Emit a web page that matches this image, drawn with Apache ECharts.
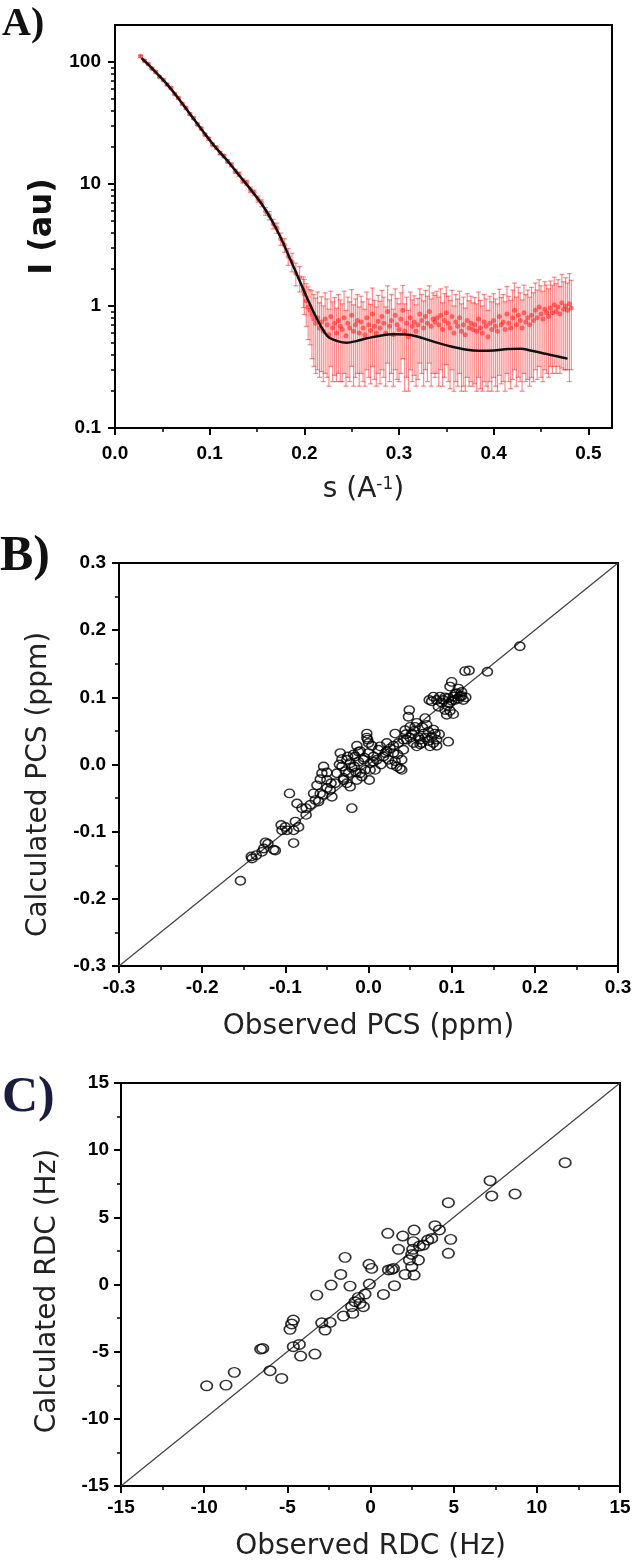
<!DOCTYPE html>
<html>
<head>
<meta charset="utf-8">
<script src="https://cdn.jsdelivr.net/npm/echarts@6/dist/echarts.min.js"></script>
<style>
html,body{margin:0;padding:0;background:#fff;}
#chart{width:633px;height:1564px;}
</style>
</head>
<body>
<div id="chart"></div>
<script>
// ---------------- Panel A : SAXS curve ----------------
// fitted curve (black)
const fitS = [0.028,0.035,0.045,0.055,0.065,0.075,0.085,0.095,0.105,0.115,
              0.125,0.135,0.145,0.155,0.165,0.175,0.185,0.195,0.205,0.215,
              0.225,0.235,0.245,0.255,0.265,0.280,0.295,0.310,0.325,0.340,
              0.355,0.370,0.385,0.400,0.415,0.428,0.440,0.455,0.468,0.478];
const fitI = [107,95,79,65.3,52.5,41.4,32.5,25.6,20.4,16.7,
              13.5,10.8,8.67,6.84,5.12,3.63,2.42,1.61,1.07,0.74,
              0.56,0.515,0.50,0.515,0.54,0.57,0.585,0.58,0.545,0.50,
              0.465,0.44,0.43,0.432,0.443,0.445,0.43,0.405,0.385,0.37];

// experimental data, low-s part
const sLow = [0.027,0.031,0.035,0.039,0.043,0.047,0.051,0.055,0.059,0.063,
              0.067,0.071,0.075,0.079,0.083,0.087,0.091,0.095,0.099,0.103,
              0.107,0.111,0.115,0.119,0.123,0.127,0.131,0.135,0.139,0.143,
              0.147,0.151,0.155,0.159,0.163,0.167,0.171,0.175,0.179,0.183,
              0.187,0.191,0.195,0.199];
const iLow = [111,102,96,88,82.5,75.5,71,65,61,54.5,
              50.5,45.3,41.8,37.4,34.5,30.7,28.4,25.3,23.4,21.0,
              19.8,17.9,16.9,15.3,14.3,12.7,12.0,10.6,10.2,8.95,
              8.45,7.5,6.95,5.95,5.5,4.7,4.35,3.55,3.15,2.55,
              2.3,1.85,1.7,1.35];
const eLow = [2.2,2.0,1.9,1.8,1.7,1.5,1.4,1.3,1.2,1.1,
              1.0,0.95,0.9,0.82,0.78,0.72,0.68,0.62,0.6,0.56,
              0.55,0.52,0.52,0.5,0.5,0.48,0.48,0.46,0.46,0.45,
              0.45,0.44,0.44,0.43,0.43,0.42,0.42,0.41,0.4,0.4,
              0.4,0.39,0.4,0.38];

// experimental data, high-s (noisy) part
const sHigh = [0.200,0.202,0.204,0.206,0.208,0.210,0.212,0.214,0.216,0.218,
               0.220,0.222,0.224,0.226,0.228,0.230,0.232,0.234,0.236,0.238,
               0.240,0.242,0.244,0.246,0.248,0.250,0.252,0.254,0.256,0.258,
               0.260,0.262,0.264,0.266,0.268,0.270,0.272,0.274,0.276,0.278,
               0.280,0.282,0.284,0.286,0.288,0.290,0.292,0.294,0.296,0.298,
               0.300,0.302,0.304,0.306,0.308,0.310,0.312,0.314,0.316,0.318,
               0.320,0.322,0.324,0.326,0.328,0.330,0.332,0.334,0.336,0.338,
               0.340,0.342,0.344,0.346,0.348,0.350,0.352,0.354,0.356,0.358,
               0.360,0.362,0.364,0.366,0.368,0.370,0.372,0.374,0.376,0.378,
               0.380,0.382,0.384,0.386,0.388,0.390,0.392,0.394,0.396,0.398,
               0.400,0.402,0.404,0.406,0.408,0.410,0.412,0.414,0.416,0.418,
               0.420,0.422,0.424,0.426,0.428,0.430,0.432,0.434,0.436,0.438,
               0.440,0.442,0.444,0.446,0.448,0.450,0.452,0.454,0.456,0.458,
               0.460,0.462,0.464,0.466,0.468,0.470,0.472,0.474,0.476,0.478,
               0.480,0.482];
const iHigh = [1.25,1.1,0.98,0.92,0.85,0.78,0.72,0.80,0.66,0.74,
               0.62,0.78,0.70,0.58,0.82,0.66,0.72,0.60,0.76,0.68,
               0.64,0.80,0.57,0.72,0.66,0.84,0.62,0.70,0.76,0.60,
               0.74,0.66,0.58,0.80,0.70,0.63,0.86,0.68,0.60,0.75,
               0.66,0.82,0.72,0.60,0.90,0.68,0.76,0.58,0.84,0.70,
               0.64,0.78,0.92,0.62,0.72,0.56,0.80,0.68,0.74,0.62,
               0.70,0.86,0.76,0.66,0.82,0.72,0.90,0.68,0.78,0.74,
               0.80,0.70,0.84,0.64,0.76,0.88,0.72,0.66,0.82,0.60,
               0.74,0.68,0.80,0.62,0.70,0.58,0.76,0.66,0.72,0.64,
               0.70,0.62,0.78,0.66,0.60,0.74,0.68,0.56,0.72,0.64,
               0.76,0.68,0.62,0.82,0.70,0.74,0.64,0.86,0.72,0.66,
               0.80,0.92,0.70,0.84,0.76,0.66,0.88,0.74,0.80,0.70,
               0.84,0.76,0.92,0.80,0.98,0.86,0.78,0.94,0.88,0.82,
               0.96,0.88,1.02,0.90,0.98,0.86,1.06,0.94,1.00,0.92,
               1.04,0.96];
const eHigh = [0.40,0.42,0.45,0.44,0.48,0.46,0.44,0.50,0.40,0.45,
               0.38,0.50,0.44,0.36,0.50,0.42,0.45,0.36,0.48,0.44,
               0.40,0.52,0.35,0.46,0.42,0.52,0.40,0.44,0.48,0.38,
               0.46,0.42,0.36,0.50,0.44,0.40,0.54,0.43,0.38,0.47,
               0.43,0.52,0.46,0.38,0.56,0.44,0.48,0.36,0.54,0.45,
               0.40,0.50,0.55,0.42,0.46,0.36,0.50,0.44,0.47,0.40,
               0.45,0.52,0.48,0.44,0.52,0.48,0.56,0.46,0.50,0.48,
               0.52,0.48,0.54,0.42,0.50,0.55,0.48,0.45,0.52,0.40,
               0.50,0.46,0.52,0.42,0.48,0.38,0.50,0.44,0.48,0.42,
               0.47,0.42,0.52,0.45,0.40,0.50,0.46,0.36,0.48,0.44,
               0.50,0.46,0.42,0.55,0.47,0.50,0.44,0.58,0.48,0.45,
               0.55,0.62,0.48,0.58,0.52,0.46,0.60,0.50,0.55,0.48,
               0.58,0.52,0.62,0.55,0.66,0.60,0.54,0.64,0.60,0.56,
               0.64,0.60,0.70,0.62,0.66,0.58,0.75,0.64,0.70,0.62,
               0.80,0.66];

const xTicksA = [0, 0.1, 0.2, 0.3, 0.4, 0.5];
const yDecadesA = [0.1, 1, 10, 100];

// ---------------- Panel B : PCS ----------------
const pcsPoints = [
 [-0.141,-0.137],[-0.135,-0.135],[-0.126,-0.125],[-0.124,-0.116],[-0.114,-0.127],[-0.104,-0.098],[-0.100,-0.093],
 [-0.095,-0.043],[-0.090,-0.098],[-0.090,-0.117],[-0.084,-0.093],[-0.086,-0.058],[-0.080,-0.065],[-0.075,-0.065],
 [-0.066,-0.043],[-0.064,-0.053],[-0.062,-0.031],[-0.058,-0.043],[-0.056,-0.013],[-0.054,-0.003],[-0.050,-0.023],
 [-0.046,-0.038],[-0.044,-0.048],[-0.040,-0.028],[-0.038,-0.013],[-0.034,0.017],[-0.032,-0.003],[-0.030,-0.023],
 [-0.026,0.007],[-0.024,-0.013],[-0.022,-0.033],[-0.020,-0.065],[-0.017,-0.003],[-0.016,0.012],[-0.014,-0.023],
 [-0.012,0.019],[-0.010,-0.013],[-0.006,0.007],[-0.004,-0.008],[-0.002,0.046],[-0.001,0.037],[0.000,0.017],
 [0.001,-0.023],[0.002,0.002],[0.006,0.012],[0.008,-0.008],[0.010,0.007],[0.012,0.022],[0.014,0.027],
 [0.018,0.012],[0.020,0.017],[0.022,0.032],[0.024,0.007],[0.026,0.024],[0.030,0.017],[0.032,0.046],
 [0.034,-0.003],[0.036,0.032],[0.038,-0.006],[0.040,0.007],[0.042,0.037],[0.044,0.051],[0.046,0.037],
 [0.048,0.071],[0.049,0.081],[0.050,0.056],[0.052,0.046],[0.054,0.032],[0.056,0.056],[0.058,0.027],
 [0.060,0.041],[0.062,0.037],[0.064,0.032],[0.066,0.046],[0.068,0.069],[0.070,0.059],[0.072,0.049],
 [0.074,0.027],[0.076,0.041],[0.078,0.032],[0.080,0.046],[0.082,0.037],[0.073,0.096],[0.076,0.094],
 [0.078,0.101],[0.082,0.096],[0.084,0.086],[0.086,0.101],[0.090,0.096],[0.092,0.081],[0.094,0.074],
 [0.096,0.099],[0.097,0.091],[0.098,0.116],[0.100,0.123],[0.102,0.101],[0.104,0.096],[0.106,0.106],
 [0.108,0.113],[0.110,0.101],[0.112,0.108],[0.114,0.096],[0.096,0.034],[0.116,0.139],
 [0.182,0.176],[0.143,0.138],[0.121,0.140],[-0.154,-0.173],
 [-0.032,0.008],[-0.028,-0.010],[-0.025,0.012],[-0.020,-0.005],[-0.018,0.015],[-0.015,-0.012],[-0.012,0.004],
 [-0.008,-0.018],[-0.005,0.010],[-0.030,-0.020],[-0.022,0.002],[-0.010,0.020],[0.002,-0.008],[0.004,0.028],
 [-0.035,0.000],[-0.026,-0.028],[-0.014,0.028],[0.006,0.004],[-0.002,0.040],[0.000,0.032],
 [0.015,0.000],[0.022,0.020],[0.028,0.000],[0.030,0.028],[0.035,0.015],[0.042,0.022],[0.045,0.045],
 [0.050,0.040],[0.055,0.050],[0.058,0.062],[0.062,0.030],[0.065,0.055],[0.068,0.040],[0.072,0.035],
 [0.078,0.052],[0.082,0.028],[0.085,0.045],[0.040,-0.008],[0.032,0.005],
 [0.088,0.092],[0.092,0.100],[0.095,0.088],[0.100,0.095],[0.104,0.105],[0.108,0.098],[0.112,0.102],
 [0.117,0.100],[0.098,0.080],[0.102,0.075],
 [-0.105,-0.090],[-0.098,-0.098],[-0.088,-0.085],[-0.075,-0.075],[-0.070,-0.060],[-0.060,-0.055],
 [-0.055,-0.045],[-0.050,-0.035],[-0.045,-0.028],[-0.140,-0.140],[-0.128,-0.130],[-0.121,-0.118],
 [-0.112,-0.128],[-0.050,-0.012],[-0.058,-0.022]
];
const pcsIdentity = [[-0.3,-0.3],[0.3,0.3]];

// ---------------- Panel C : RDC ----------------
const rdcPoints = [
 [11.70,9.07],[7.19,7.73],[7.29,6.59],[8.69,6.74],[4.68,6.09],[3.88,4.38],[4.14,4.06],[4.82,3.36],
 [4.68,2.32],[3.68,3.43],[3.18,2.94],[2.62,4.05],[2.58,3.19],[2.54,2.62],[2.88,1.82],[2.48,1.33],
 [2.62,0.70],[2.08,0.75],[2.34,1.82],[1.94,3.61],[1.04,3.81],[1.68,2.62],[1.38,1.20],[1.08,1.08],
 [1.44,-0.09],[0.78,-0.74],[-0.09,1.50],[0.07,1.20],[-0.07,0.03],[-0.33,-0.71],[-0.43,-1.65],
 [-0.73,-0.96],[-0.93,-1.28],[-1.23,-0.12],[-1.13,-1.65],[-1.07,-2.15],[-1.63,-2.35],[-1.53,2.02],
 [-1.79,0.75],[-2.37,-0.04],[-3.23,-0.79],[-2.93,-2.85],[-2.43,-2.82],[-2.73,-3.39],[-3.34,-5.18],
 [-4.64,-2.65],[-4.84,-3.34],[-4.28,-4.46],[-4.64,-4.63],[-4.20,-5.33],[-6.48,-4.76],[-6.04,-6.42],
 [-5.34,-6.99],[-8.19,-6.54],[-8.69,-7.49],[-9.85,-7.54],
 [-4.74,-2.94],[2.48,2.24],[1.28,1.12],[2.94,2.86],[3.44,3.31],[-0.63,-1.41],[-6.60,-4.81]
];
const rdcIdentity = [[-15,-15],[15,15]];

// ---------------- chart ----------------
const FONT = 'DejaVu Sans';
const TICKFONT = 'Liberation Sans';
const LOG_MAX = Math.log10(200);
const yMinorLogTicks = [];
[-1, 0, 1].forEach(function (n) {
  for (let k = 2; k <= 9; k++) yMinorLogTicks.push(Math.log10(k * Math.pow(10, n)));
});

const obsRows = sLow.map((s, i) => [s, iLow[i], eLow[i]])
  .concat(sHigh.map((s, i) => [s, iHigh[i], eHigh[i]]));

const ringSymbol = 'path://M0,10A10,10,0,1,1,20,10A10,10,0,1,1,0,10Z';

function tickLabel(extra) {
  return Object.assign({fontFamily: TICKFONT, fontWeight: 'bold', fontSize: 19, color: '#000'}, extra);
}
const axisLineStyle = {show: true, onZero: false, lineStyle: {color: '#000', width: 2}};
const majorTick = {show: true, length: 7, lineStyle: {color: '#000', width: 2}};
const minorTick = {show: true, splitNumber: 2, length: 4, lineStyle: {color: '#000', width: 1.5}};
const nameStyle = {fontFamily: FONT, fontSize: 28, color: '#222'};

const chart = echarts.init(document.getElementById('chart'), null, {renderer: 'canvas'});

const option = {
  backgroundColor: '#fff',
  animation: false,
  title: [
    {text: 'A)', left: 2, top: 5, padding: 0,
     textStyle: {fontFamily: 'Liberation Serif', fontWeight: 'bold', fontSize: 40, color: '#111'}},
    {text: 'B)', left: 0, top: 532, padding: 0,
     textStyle: {fontFamily: 'Liberation Serif', fontWeight: 'bold', fontSize: 50, color: '#111'}},
    {text: 'C)', left: 2, top: 1073, padding: 0,
     textStyle: {fontFamily: 'Liberation Serif', fontWeight: 'bold', fontSize: 50, color: '#1c1c3c'}}
  ],
  grid: [
    {left: 115, top: 25, width: 497, height: 403, show: true, borderColor: '#000', borderWidth: 2,
     containLabel: false, outerBoundsMode: 'none'},
    {left: 119, top: 563, width: 499, height: 403, show: true, borderColor: '#000', borderWidth: 2,
     containLabel: false, outerBoundsMode: 'none'},
    {left: 121, top: 1083, width: 499, height: 403, show: true, borderColor: '#000', borderWidth: 2,
     containLabel: false, outerBoundsMode: 'none'}
  ],
  xAxis: [
    {gridIndex: 0, type: 'value', position: 'bottom', min: 0, max: 0.525, interval: 0.1,
     axisLine: axisLineStyle,
     axisTick: Object.assign({customValues: xTicksA}, majorTick),
     minorTick: minorTick,
     axisLabel: tickLabel({customValues: xTicksA, margin: 16,
       formatter: v => (Math.abs(v * 10 - Math.round(v * 10)) < 1e-6 ? v.toFixed(1) : '')}),
     splitLine: {show: false},
     name: 's (A{sup|-1})', nameLocation: 'middle', nameGap: 48,
     nameTextStyle: {fontFamily: FONT, fontSize: 28, color: '#222',
       rich: {sup: {fontFamily: FONT, fontSize: 17, color: '#222', verticalAlign: 'top', padding: [0, 0, 10, 0]}}}},
    {gridIndex: 1, type: 'value', position: 'bottom', min: -0.3, max: 0.3, interval: 0.1,
     axisLine: axisLineStyle, axisTick: majorTick, minorTick: minorTick,
     axisLabel: tickLabel({margin: 12, formatter: v => v.toFixed(1)}),
     splitLine: {show: false},
     name: 'Observed PCS (ppm)', nameLocation: 'middle', nameGap: 47, nameTextStyle: nameStyle},
    {gridIndex: 2, type: 'value', position: 'bottom', min: -15, max: 15, interval: 5,
     axisLine: axisLineStyle, axisTick: majorTick, minorTick: minorTick,
     axisLabel: tickLabel({margin: 12}),
     splitLine: {show: false},
     name: 'Observed RDC (Hz)', nameLocation: 'middle', nameGap: 47, nameTextStyle: nameStyle}
  ],
  yAxis: [
    {gridIndex: 0, type: 'log', logBase: 10, position: 'left', min: 0.1, max: 200,
     axisLine: axisLineStyle, axisTick: {show: false},
     axisLabel: tickLabel({margin: 14,
       formatter: v => (yDecadesA.some(d => Math.abs(d - v) < 1e-9) ? String(v) : '')}),
     splitLine: {show: false},
     name: 'I (au)', nameLocation: 'middle', nameGap: 43,
     nameTextStyle: {fontFamily: FONT, fontWeight: 'bold', fontSize: 32, color: '#111'}},
    {gridIndex: 0, type: 'value', position: 'left', min: -1, max: LOG_MAX,
     axisLine: {show: false}, axisLabel: {show: false}, splitLine: {show: false},
     axisTick: Object.assign({customValues: yDecadesA.map(v => Math.log10(v))}, majorTick)},
    {gridIndex: 0, type: 'value', position: 'left', min: -1, max: LOG_MAX,
     axisLine: {show: false}, axisLabel: {show: false}, splitLine: {show: false},
     axisTick: {show: true, customValues: yMinorLogTicks, length: 4, lineStyle: {color: '#000', width: 1.5}}},
    {gridIndex: 1, type: 'value', position: 'left', min: -0.3, max: 0.3, interval: 0.1,
     axisLine: axisLineStyle, axisTick: majorTick, minorTick: minorTick,
     axisLabel: tickLabel({margin: 13, formatter: v => v.toFixed(1)}),
     splitLine: {show: false},
     name: 'Calculated PCS (ppm)', nameLocation: 'middle', nameGap: 66,
     nameTextStyle: Object.assign({padding: [0, 40, 0, 0]}, nameStyle)},
    {gridIndex: 2, type: 'value', position: 'left', min: -15, max: 15, interval: 5,
     axisLine: axisLineStyle, axisTick: majorTick, minorTick: minorTick,
     axisLabel: tickLabel({margin: 12}),
     splitLine: {show: false},
     name: 'Calculated RDC (Hz)', nameLocation: 'middle', nameGap: 59,
     nameTextStyle: Object.assign({padding: [0, 13, 0, 0]}, nameStyle)}
  ],
  series: [
    {type: 'custom', name: 'error bars', xAxisIndex: 0, yAxisIndex: 0, z: 2,
     data: obsRows, encode: {x: 0, y: 1},
     renderItem: function (params, api) {
       const s = api.value(0), v = api.value(1), e = api.value(2);
       const top = api.coord([s, v + e]);
       const bot = api.coord([s, v - e]);
       const st = {stroke: 'rgba(255,0,0,0.45)', lineWidth: 1.2};
       const hw = 2.5;
       return {type: 'group', children: [
         {type: 'line', shape: {x1: top[0], y1: top[1], x2: bot[0], y2: bot[1]}, style: st},
         {type: 'line', shape: {x1: top[0] - hw, y1: top[1], x2: top[0] + hw, y2: top[1]}, style: st},
         {type: 'line', shape: {x1: bot[0] - hw, y1: bot[1], x2: bot[0] + hw, y2: bot[1]}, style: st}
       ]};
     }},
    {type: 'scatter', name: 'observed', xAxisIndex: 0, yAxisIndex: 0, z: 3,
     data: obsRows.map(r => [r[0], r[1]]), symbol: 'circle', symbolSize: 5,
     itemStyle: {color: 'rgba(255,0,0,0.6)'}},
    {type: 'line', name: 'fit', xAxisIndex: 0, yAxisIndex: 0, z: 5,
     data: fitS.map((s, i) => [s, fitI[i]]), showSymbol: false, smooth: 0.3,
     lineStyle: {color: '#111', width: 2.5}},
    {type: 'line', name: 'identity B', xAxisIndex: 1, yAxisIndex: 3, z: 2,
     data: pcsIdentity, showSymbol: false, lineStyle: {color: '#444', width: 1.3}},
    {type: 'scatter', name: 'PCS', xAxisIndex: 1, yAxisIndex: 3, z: 3,
     data: pcsPoints, symbol: ringSymbol, symbolSize: [10, 8.5],
     itemStyle: {color: 'rgba(0,0,0,0)', borderColor: '#000', borderWidth: 1.5}},
    {type: 'line', name: 'identity C', xAxisIndex: 2, yAxisIndex: 4, z: 2,
     data: rdcIdentity, showSymbol: false, lineStyle: {color: '#444', width: 1.3}},
    {type: 'scatter', name: 'RDC', xAxisIndex: 2, yAxisIndex: 4, z: 3,
     data: rdcPoints, symbol: ringSymbol, symbolSize: [11.5, 9.5],
     itemStyle: {color: 'rgba(0,0,0,0)', borderColor: '#000', borderWidth: 1.6}}
  ]
};
chart.setOption(option);
</script>
</body>
</html>
